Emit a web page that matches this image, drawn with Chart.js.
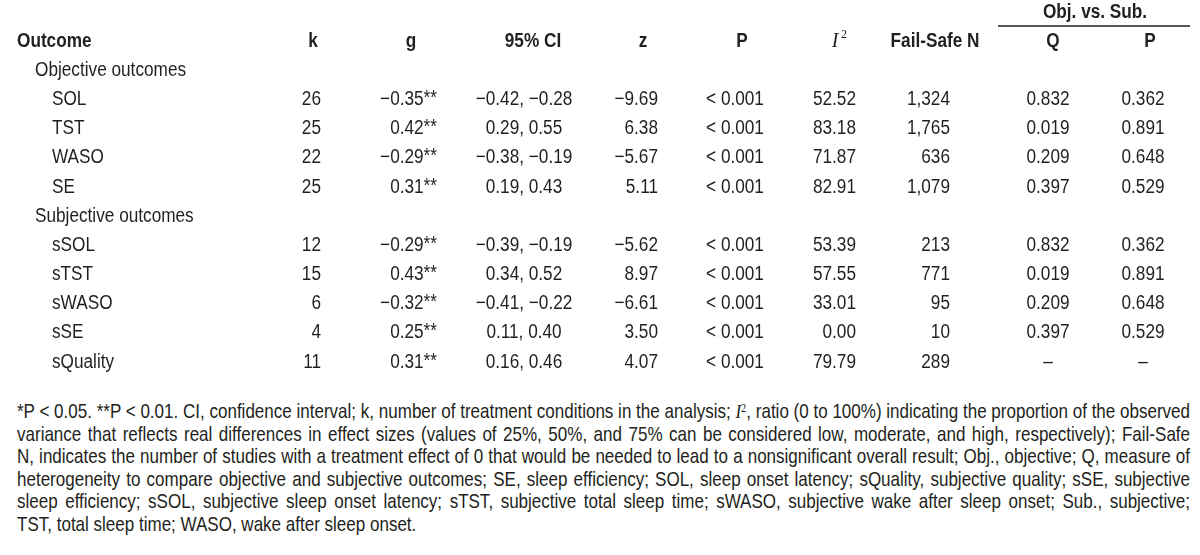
<!DOCTYPE html>
<html><head><meta charset="utf-8">
<script src="https://cdn.jsdelivr.net/npm/chart.js@4/dist/chart.umd.min.js"></script>
<style>
html,body{margin:0;padding:0;background:#fff;width:1200px;height:555px;overflow:hidden}
#wrap{position:absolute;left:0;top:0;width:1200px;height:390px}
#note{position:absolute;left:17px;top:400px;width:1173px;font-family:"Liberation Sans",Arial,sans-serif;font-size:19.8px;line-height:22.5px;color:#231f20}
#note div{width:1364px;transform:scaleX(0.86);transform-origin:0 0;white-space:nowrap;text-align:justify;text-align-last:justify}
#note div.last{text-align-last:left}
#note i{font-family:"Liberation Serif",serif}
#note sup{font-family:"Liberation Serif",serif;font-size:12px;line-height:0;vertical-align:6px}
</style></head>
<body>
<div id="wrap"><canvas id="c" width="1200" height="390"></canvas></div>
<div id="note">
<div>*P &lt; 0.05. **P &lt; 0.01. CI, confidence interval; k, number of treatment conditions in the analysis; <i>I</i><sup>2</sup>, ratio (0 to 100%) indicating the proportion of the observed</div>
<div>variance that reflects real differences in effect sizes (values of 25%, 50%, and 75% can be considered low, moderate, and high, respectively); Fail-Safe</div>
<div>N, indicates the number of studies with a treatment effect of 0 that would be needed to lead to a nonsignificant overall result; Obj., objective; Q, measure of</div>
<div>heterogeneity to compare objective and subjective outcomes; SE, sleep efficiency; SOL, sleep onset latency; sQuality, subjective quality; sSE, subjective</div>
<div>sleep efficiency; sSOL, subjective sleep onset latency; sTST, subjective total sleep time; sWASO, subjective wake after sleep onset; Sub., subjective;</div>
<div class="last">TST, total sleep time; WASO, wake after sleep onset.</div>
</div>
<script>
// ---- data ----
const groupNames = ['Objective outcomes', 'Subjective outcomes'];
const outcomes = ['SOL', 'TST', 'WASO', 'SE', 'sSOL', 'sTST', 'sWASO', 'sSE', 'sQuality'];
const groupOf = [0, 0, 0, 0, 1, 1, 1, 1, 1];
const kVals = [26, 25, 22, 25, 12, 15, 6, 4, 11];
const gVals = [-0.35, 0.42, -0.29, 0.31, -0.29, 0.43, -0.32, 0.25, 0.31];
const gSig = ['**', '**', '**', '**', '**', '**', '**', '**', '**'];
const ciLow = [-0.42, 0.29, -0.38, 0.19, -0.39, 0.34, -0.41, 0.11, 0.16];
const ciHigh = [-0.28, 0.55, -0.19, 0.43, -0.19, 0.52, -0.22, 0.40, 0.46];
const zVals = [-9.69, 6.38, -5.67, 5.11, -5.62, 8.97, -6.61, 3.50, 4.07];
const pVals = ['< 0.001', '< 0.001', '< 0.001', '< 0.001', '< 0.001', '< 0.001', '< 0.001', '< 0.001', '< 0.001'];
const i2Vals = [52.52, 83.18, 71.87, 82.91, 53.39, 57.55, 33.01, 0.00, 79.79];
const failSafe = [1324, 1765, 636, 1079, 213, 771, 95, 10, 289];
const qVals = [0.832, 0.019, 0.209, 0.397, 0.832, 0.019, 0.209, 0.397, null];
const qPVals = [0.362, 0.891, 0.648, 0.529, 0.362, 0.891, 0.648, 0.529, null];
const headers = ['Outcome', 'k', 'g', '95% CI', 'z', 'P', 'I2', 'Fail-Safe N', 'Q', 'P'];
const spanHeader = 'Obj. vs. Sub.';

// ---- layout (positions on the x scale, 0..1200) ----
const colAnchor = {outcome: 17, group: 35, item: 52, k: 321, g: 437, ci: 524, z: 658, p: 735, i2: 856, fs: 950, q: 1048, qp: 1143};
const headAnchor = [17, 313, 411, 533, 643, 742, 839, 935, 1053, 1150];
const spanAnchor = {from: 998, to: 1190, center: 1095};

const FONT = '"Liberation Sans",Arial,sans-serif';
const SX = 0.86;            // horizontal condensing of the sans text
const INK = '#231f20';

// rows on the y category scale
const rowKeys = ['span', 'header'];
groupNames.forEach((gname, gi) => {
  rowKeys.push(gname);
  outcomes.forEach((o, i) => { if (groupOf[i] === gi) rowKeys.push(o); });
});

const minus = v => (v < 0 ? '\u2212' : '') + Math.abs(v).toFixed(2);
const f3 = v => v === null ? '\u2013' : v.toFixed(3);

const tablePlugin = {
  id: 'table',
  afterDraw(chart) {
    const ctx = chart.ctx, xs = chart.scales.x, ys = chart.scales.y;
    const X = v => xs.getPixelForValue(v);
    const Y = key => ys.getPixelForValue(rowKeys.indexOf(key));
    ctx.save();
    ctx.fillStyle = INK;
    ctx.strokeStyle = INK;
    ctx.textBaseline = 'middle';
    const txt = (s, x, y, align, font) => {
      ctx.save();
      ctx.font = font; ctx.textAlign = align;
      ctx.translate(x, y); ctx.scale(SX, 1);
      ctx.fillText(s, 0, 0);
      ctx.restore();
    };
    const width = (s, font) => { ctx.font = font; return ctx.measureText(s).width * SX; };
    const bold = 'bold 20px ' + FONT, reg = '20px ' + FONT;

    // spanning header + rule
    txt(spanHeader, X(spanAnchor.center), Y('span'), 'center', bold);
    const ly = Math.round((Y('span') + Y('header')) / 2) - 1;
    ctx.lineWidth = 1.5;
    ctx.beginPath(); ctx.moveTo(X(spanAnchor.from), ly); ctx.lineTo(X(spanAnchor.to), ly); ctx.stroke();

    // headers
    headers.forEach((h, i) => {
      const y = Y('header');
      if (h === 'I2') {
        ctx.font = 'italic 20px "Liberation Serif",serif';
        ctx.textAlign = 'center';
        ctx.fillText('I', X(headAnchor[i]) - 4, y + 1);
        ctx.font = '12px "Liberation Serif",serif';
        ctx.fillText('2', X(headAnchor[i]) + 5, y - 6);
      } else {
        txt(h, X(headAnchor[i]), y, i === 0 ? 'left' : 'center', bold);
      }
    });

    groupNames.forEach(gname => txt(gname, X(colAnchor.group), Y(gname), 'left', reg));
    outcomes.forEach((o, i) => {
      const y = Y(o);
      txt(o, X(colAnchor.item), y, 'left', reg);
      txt(String(kVals[i]), X(colAnchor.k), y, 'right', reg);
      // g with significance stars
      const starW = width(gSig[i], reg);
      txt(gSig[i], X(colAnchor.g), y - 1, 'right', reg);
      txt(minus(gVals[i]), X(colAnchor.g) - starW, y, 'right', reg);
      txt(minus(ciLow[i]) + ', ' + minus(ciHigh[i]), X(colAnchor.ci), y, 'center', reg);
      txt(minus(zVals[i]), X(colAnchor.z), y, 'right', reg);
      txt(pVals[i], X(colAnchor.p), y, 'center', reg);
      txt(i2Vals[i].toFixed(2), X(colAnchor.i2), y, 'right', reg);
      txt(failSafe[i].toLocaleString('en-US'), X(colAnchor.fs), y, 'right', reg);
      txt(f3(qVals[i]), X(colAnchor.q), y, 'center', reg);
      txt(f3(qPVals[i]), X(colAnchor.qp), y, 'center', reg);
    });
    ctx.restore();
  }
};

new Chart(document.getElementById('c'), {
  type: 'scatter',
  data: {datasets: [{data: [], pointRadius: 0}]},
  options: {
    responsive: false,
    animation: false,
    layout: {padding: {left: 0, right: 0, top: 12, bottom: 28}},
    plugins: {legend: {display: false}, tooltip: {enabled: false}},
    scales: {
      x: {type: 'linear', min: 0, max: 1200, display: false},
      y: {type: 'category', labels: rowKeys, offset: false, display: false}
    }
  },
  plugins: [tablePlugin]
});
</script>
</body></html>
